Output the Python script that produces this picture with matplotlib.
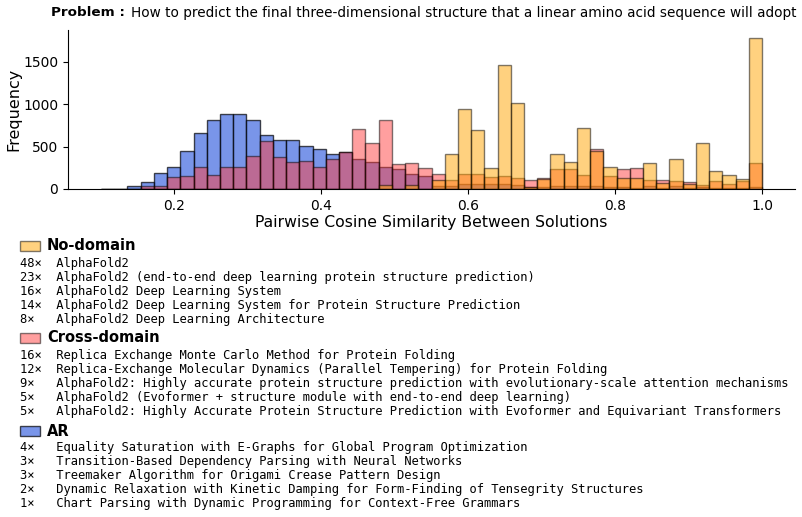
import numpy as np
import matplotlib
matplotlib.use("Agg")
import matplotlib.pyplot as plt
from matplotlib.patches import Rectangle

# ---------------- data ----------------
bin_edges = np.linspace(0.1, 1.0, 51)

ar_counts = [3, 4, 32, 86, 186, 257, 444, 661, 812, 887,
             879, 816, 638, 582, 582, 511, 471, 418, 438, 350,
             320, 257, 238, 174, 152, 30, 40, 60, 60, 60,
             60, 45, 28, 20, 36, 36, 40, 40, 28, 28,
             15, 36, 10, 40, 10, 20, 10, 10, 10, 20]

cross_counts = [0, 2, 5, 32, 36, 139, 154, 257, 162, 257,
                257, 388, 566, 376, 317, 329, 265, 356, 436, 705,
                543, 816, 293, 309, 245, 174, 111, 174, 174, 145,
                154, 127, 107, 135, 234, 234, 166, 467, 154, 234,
                242, 107, 107, 99, 87, 48, 95, 59, 95, 305]

nodomain_counts = [0, 0, 0, 0, 0, 0, 0, 0, 0, 0,
                   0, 0, 0, 0, 0, 0, 0, 0, 0, 0,
                   0, 44, 0, 45, 0, 111, 408, 946, 693, 245,
                   1461, 1018, 28, 115, 412, 317, 721, 444, 257, 135,
                   127, 305, 67, 352, 55, 542, 214, 162, 123, 1786]

title_bold = "Problem :"
title_text = "How to predict the final three-dimensional structure that a linear amino acid sequence will adopt"

groups = ["No-domain", "Cross-domain", "AR"]
group_items = {
    "No-domain": [
        (48, "AlphaFold2"),
        (23, "AlphaFold2 (end-to-end deep learning protein structure prediction)"),
        (16, "AlphaFold2 Deep Learning System"),
        (14, "AlphaFold2 Deep Learning System for Protein Structure Prediction"),
        (8, "AlphaFold2 Deep Learning Architecture"),
    ],
    "Cross-domain": [
        (16, "Replica Exchange Monte Carlo Method for Protein Folding"),
        (12, "Replica-Exchange Molecular Dynamics (Parallel Tempering) for Protein Folding"),
        (9, "AlphaFold2: Highly accurate protein structure prediction with evolutionary-scale attention mechanisms"),
        (5, "AlphaFold2 (Evoformer + structure module with end-to-end deep learning)"),
        (5, "AlphaFold2: Highly Accurate Protein Structure Prediction with Evoformer and Equivariant Transformers"),
    ],
    "AR": [
        (4, "Equality Saturation with E-Graphs for Global Program Optimization"),
        (3, "Transition-Based Dependency Parsing with Neural Networks"),
        (3, "Treemaker Algorithm for Origami Crease Pattern Design"),
        (2, "Dynamic Relaxation with Kinetic Damping for Form-Finding of Tensegrity Structures"),
        (1, "Chart Parsing with Dynamic Programming for Context-Free Grammars"),
    ],
}

colors = {"AR": "royalblue", "Cross-domain": "#ff4040", "No-domain": "orange"}
alphas = {"AR": 0.7, "Cross-domain": 0.5, "No-domain": 0.5}

# ---------------- figure ----------------
W, H = 802, 517
fig = plt.figure(figsize=(W / 100, H / 100), dpi=100)
ax = fig.add_axes([68 / W, 1 - 189 / H, (795 - 68) / W, (189 - 30) / H])

centers = (bin_edges[:-1] + bin_edges[1:]) / 2
for name, counts in [("AR", ar_counts), ("Cross-domain", cross_counts), ("No-domain", nodomain_counts)]:
    ax.hist(centers, bins=bin_edges, weights=counts, color=colors[name],
            alpha=alphas[name], edgecolor="black", linewidth=1.0)

ax.spines["top"].set_visible(False)
ax.spines["right"].set_visible(False)
ax.set_xticks([0.2, 0.4, 0.6, 0.8, 1.0])
ax.set_yticks([0, 500, 1000, 1500])
ax.tick_params(labelsize=10)
ax.set_xlabel("Pairwise Cosine Similarity Between Solutions", fontsize=11.25, labelpad=2)
ax.set_ylabel("Frequency", fontsize=11.5, labelpad=1.5)

# title
fig.canvas.draw()
renderer = fig.canvas.get_renderer()
ty = 1 - 13 / H
tb = fig.text(51 / W, ty, title_bold, fontsize=9.7, fontweight="bold", va="center", ha="left")
bb = tb.get_window_extent(renderer)
fig.text((bb.x1 + 6) / W, ty, title_text, fontsize=9.8, va="center", ha="left")

# legend-like listing
header_y = {"No-domain": 246, "Cross-domain": 338, "AR": 431}
for name in groups:
    hy = header_y[name]
    fig.patches.append(Rectangle((20 / W, 1 - (hy + 5) / H), 20 / W, 10 / H,
                                 transform=fig.transFigure,
                                 facecolor=colors[name], alpha=alphas[name],
                                 edgecolor="black", linewidth=1.0))
    fig.text(47 / W, 1 - hy / H, name, fontsize=10.5, fontweight="bold", va="center", ha="left")
    for k, (cnt, label) in enumerate(group_items[name]):
        yy = hy + 17 + 14 * k
        fig.text(20 / W, 1 - yy / H, (f"{cnt}×").ljust(5) + label, fontsize=8.76,
                 family="DejaVu Sans Mono", va="center", ha="left")

fig.savefig("out.png", dpi=100)
